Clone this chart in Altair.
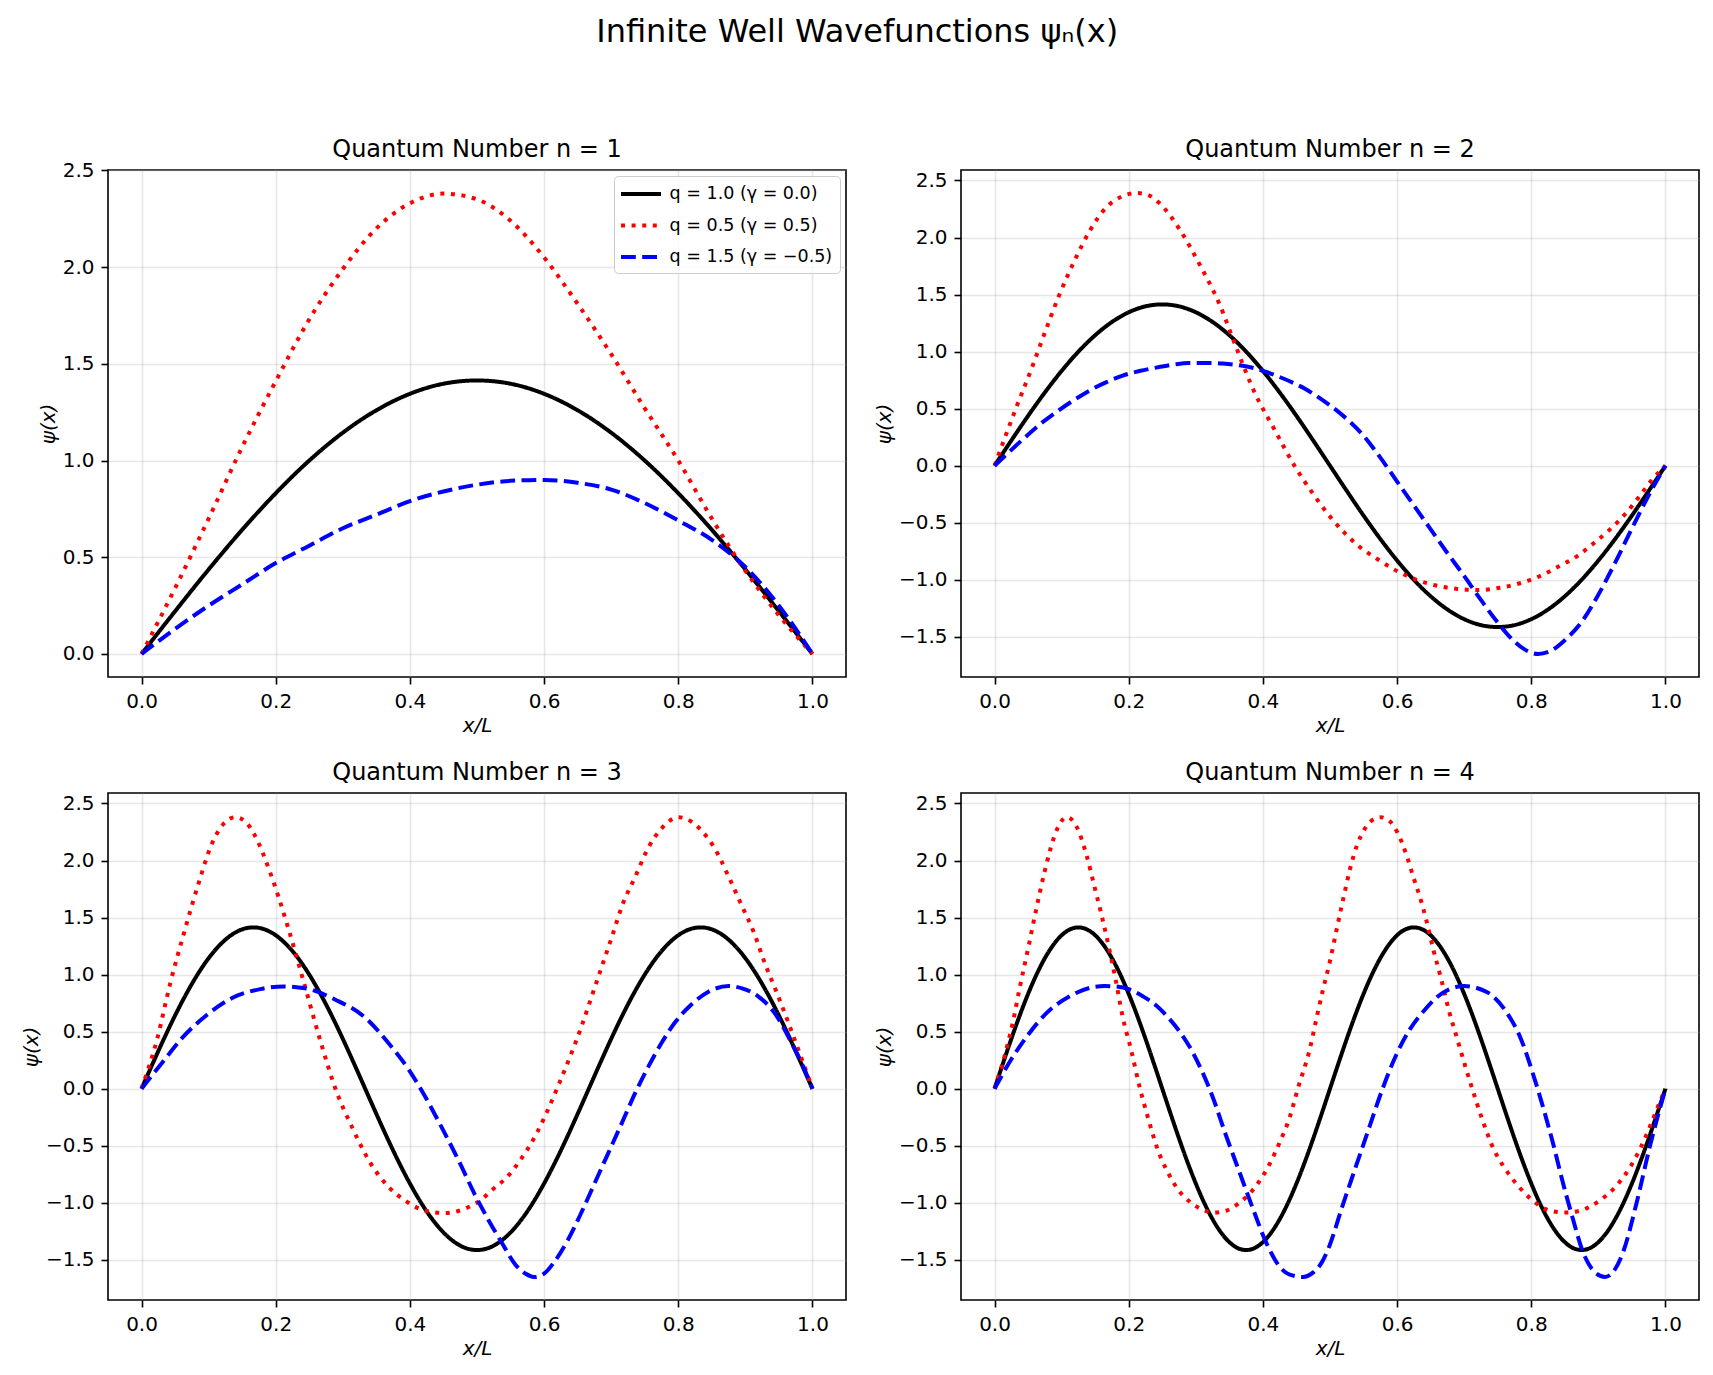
import altair as alt
import numpy as np
import pandas as pd

FONT = "DejaVu Sans"

SERIES = ["q = 1.0 (γ = 0.0)", "q = 0.5 (γ = 0.5)", "q = 1.5 (γ = −0.5)"]
COLORS = ["#000000", "#ff0000", "#0000ff"]
DASHES = [[1, 0], [4, 6.6], [14.8, 6.4]]

# q = 1.0 (standard well): values on an evenly spaced x grid from 0 to 1
black_n1 = [0, .221, .437, .642, .831, 1.0, 1.144, 1.26, 1.345, 1.397, 1.414,
            1.397, 1.345, 1.26, 1.144, 1.0, .831, .642, .437, .221, 0]
black_n2 = [0, .221, .437, .642, .831, 1.0, 1.144, 1.26, 1.345, 1.397, 1.414,
            1.397, 1.345, 1.26, 1.144, 1.0, .831, .642, .437, .221,
            0, -.221, -.437, -.642, -.831, -1.0, -1.144, -1.26, -1.345, -1.397, -1.414,
            -1.397, -1.345, -1.26, -1.144, -1.0, -.831, -.642, -.437, -.221, 0]
black_n3 = [0, .221, .437, .642, .831, 1.0, 1.144, 1.26, 1.345, 1.397, 1.414,
            1.397, 1.345, 1.26, 1.144, 1.0, .831, .642, .437, .221,
            0, -.221, -.437, -.642, -.831, -1.0, -1.144, -1.26, -1.345, -1.397, -1.414,
            -1.397, -1.345, -1.26, -1.144, -1.0, -.831, -.642, -.437, -.221,
            0, .221, .437, .642, .831, 1.0, 1.144, 1.26, 1.345, 1.397, 1.414,
            1.397, 1.345, 1.26, 1.144, 1.0, .831, .642, .437, .221, 0]
black_n4 = [0, .221, .437, .642, .831, 1.0, 1.144, 1.26, 1.345, 1.397, 1.414,
            1.397, 1.345, 1.26, 1.144, 1.0, .831, .642, .437, .221,
            0, -.221, -.437, -.642, -.831, -1.0, -1.144, -1.26, -1.345, -1.397, -1.414,
            -1.397, -1.345, -1.26, -1.144, -1.0, -.831, -.642, -.437, -.221,
            0, .221, .437, .642, .831, 1.0, 1.144, 1.26, 1.345, 1.397, 1.414,
            1.397, 1.345, 1.26, 1.144, 1.0, .831, .642, .437, .221,
            0, -.221, -.437, -.642, -.831, -1.0, -1.144, -1.26, -1.345, -1.397, -1.414,
            -1.397, -1.345, -1.26, -1.144, -1.0, -.831, -.642, -.437, -.221, 0]

# q = 0.5
red_x1 = [0, .05, .1, .15, .2, .25, .3, .35, .4, .45, .5, .55, .6, .65, .7, .75, .8, .85, .9, .95, 1]
red_y1 = [0, .34, .70, 1.07, 1.41, 1.73, 1.99, 2.20, 2.33, 2.38, 2.35, 2.24, 2.05, 1.81, 1.55,
          1.27, 1.00, .70, .43, .20, 0]
red_x2 = [0, .033, .057, .072, .096, .121, .142, .166, .19, .212, .23, .246, .276, .306, .335,
          .36, .387, .417, .447, .474, .502, .522, .546, .571, .599, .629, .658, .69, .72, .753,
          .783, .812, .842, .869, .894, .917, .939, .961, .979, 1]
red_y2 = [0, .52, .88, 1.12, 1.49, 1.82, 2.06, 2.26, 2.36, 2.39, 2.37, 2.30, 2.07, 1.76, 1.42,
          1.04, .65, .32, 0, -.24, -.46, -.59, -.72, -.82, -.92, -1.0, -1.05, -1.08, -1.09, -1.07,
          -1.03, -.97, -.88, -.79, -.675, -.56, -.43, -.27, -.13, 0]
red_x3 = [0, .023, .043, .063, .085, .105, .122, .14, .155, .167, .192, .217, .242, .2665, .289,
          .314, .341, .368, .393, .423, .453, .4825, .507, .522, .547, .564, .589, .609, .622, .64,
          .656, .671, .686, .701, .716, .736, .756, .775, .80, .82, .835, .855, .875, .895, .912,
          .929, .947, .964, .981, 1]
red_y3 = [0, .43, .93, 1.36, 1.80, 2.15, 2.32, 2.38, 2.34, 2.24, 1.89, 1.44, .93, .42, 0,
          -.34, -.65, -.86, -.98, -1.07, -1.09, -1.05, -.97, -.89, -.76, -.63, -.39, -.14, .04, .30,
          .55, .81, 1.07, 1.33, 1.60, 1.86, 2.12, 2.28, 2.38, 2.34, 2.26, 2.10, 1.86, 1.60, 1.38,
          1.10, .84, .58, .31, 0]
red_x4 = [0, .0174, .0283, .037, .0497, .062, .0745, .089, .098, .107, .115, .122, .137, .149,
          .16, .17, .181, .191, .204, .216, .2285, .243, .258, .273, .293, .31, .327, .345, .365,
          .39, .41, .425, .44, .452, .47, .48, .49, .50, .51, .52, .53, .54, .55, .56, .575, .59,
          .601, .615, .624, .634, .643, .654, .666, .677, .69, .703, .712, .727, .744, .758, .778,
          .80, .828, .85, .872, .902, .927, .947, .962, .977, .992, 1]
red_y4 = [0, .34, .61, .87, 1.22, 1.57, 1.90, 2.21, 2.33, 2.38, 2.36, 2.30, 2.05, 1.77,
          1.51, 1.25, .94, .63, .33, .02, -.25, -.53, -.73, -.88, -1.0, -1.06, -1.085, -1.07, -1.0,
          -.85, -.66, -.47, -.25, 0, .35, .62, .88, 1.12, 1.40, 1.67, 1.93, 2.13, 2.26, 2.34, 2.38,
          2.34, 2.24, 2.03, 1.86, 1.68, 1.49, 1.22, .955, .69, .43, .17, 0, -.27, -.53, -.675,
          -.835, -.97, -1.07, -1.085, -1.07, -.98, -.85, -.69, -.53, -.33, -.11, 0]

# q = 1.5
blue_x1 = [0, .05, .1, .15, .2, .25, .3, .35, .4, .45, .5, .55, .6, .65, .7, .75, .8, .85, .9, .95, 1]
blue_y1 = [0, .13, .25, .36, .47, .56, .65, .72, .79, .84, .875, .895, .90, .885, .85, .78, .69,
           .59, .45, .25, 0]
blue_x2 = [0, .042, .067, .092, .117, .142, .166, .191, .216, .241, .266, .29, .315, .34, .365,
           .39, .415, .44, .464, .489, .514, .549, .574, .599, .624, .648, .673, .698, .723, .748,
           .773, .79, .81, .83, .85, .875, .9, .925, .95, .975, 1]
blue_y2 = [0, .23, .36, .47, .57, .66, .73, .79, .83, .86, .885, .90, .90, .895, .88, .85, .80,
           .74, .67, .575, .465, .27, .08, -.13, -.34, -.54, -.75, -.95, -1.16, -1.36, -1.53, -1.61,
           -1.65, -1.62, -1.53, -1.37, -1.13, -.85, -.55, -.26, 0]
blue_x3 = [0, .031, .0606, .095, .135, .177, .212, .244, .289, .334, .368, .398, .413, .443,
           .4726, .497, .517, .537, .557, .572, .585, .60, .615, .636, .656, .676, .696, .716, .736,
           .756, .775, .795, .82, .845, .875, .895, .919, .944, .969, .985, 1]
blue_y3 = [0, .23, .445, .635, .795, .873, .897, .88, .78, .62, .40, .17, .03, -.29, -.63, -.93,
           -1.15, -1.35, -1.54, -1.62, -1.65, -1.62, -1.52, -1.32, -1.08, -.82, -.56, -.30, -.035,
           .20, .40, .58, .74, .85, .90, .88, .81, .66, .40, .21, 0]
blue_x4 = [0, .0248, .0497, .077, .112, .1465, .164, .182, .201, .221, .241, .258, .276, .2905,
           .3055, .325, .345, .365, .385, .405, .425, .44, .46, .475, .488, .499, .519, .539, .559,
           .579, .599, .619, .641, .668, .70, .733, .762, .785, .802, .817, .832, .847, .862, .877,
           .895, .91, .925, .937, .957, .977, 1]
blue_y4 = [0, .256, .47, .66, .81, .89, .90, .895, .87, .81, .73, .63, .50, .37, .20, -.07, -.41,
           -.73, -1.05, -1.35, -1.56, -1.63, -1.65, -1.61, -1.52, -1.38, -1.02, -.675, -.33, .01,
           .30, .52, .69, .84, .90, .85, .68, .43, .14, -.15, -.47, -.82, -1.14, -1.43, -1.61,
           -1.65, -1.58, -1.43, -1.0, -.50, 0]

X_TICKS = [0.0, 0.2, 0.4, 0.6, 0.8, 1.0]

# legend swatch: a 40 px horizontal stroke that starts at the left edge of the entry
SWATCH = "M-1.222,0H3.222"


def panel_frame(black, rx, ry, bx, by):
    xs = np.linspace(0, 1, len(black))
    parts = [
        pd.DataFrame({"x": xs, "psi": black, "series": SERIES[0]}),
        pd.DataFrame({"x": rx, "psi": ry, "series": SERIES[1]}),
        pd.DataFrame({"x": bx, "psi": by, "series": SERIES[2]}),
    ]
    return pd.concat(parts, ignore_index=True)


def panel(n, df, ydomain, yticks, show_legend, title_offset):
    if show_legend:
        legend = alt.Legend(
            title=None, orient="top-right", offset=6, symbolType=SWATCH,
            symbolSize=324, symbolStrokeWidth=4, labelFont=FONT, labelFontSize=17.5,
            labelColor="black", labelOffset=26.6, labelLimit=400, padding=7, rowPadding=11.5,
            fillColor="rgba(255,255,255,0.8)", strokeColor="#cccccc", cornerRadius=4,
        )
    else:
        legend = None
    base = alt.Chart(df).mark_line(
        strokeWidth=4, interpolate="monotone", strokeCap="butt", strokeJoin="round"
    ).encode(
        x=alt.X("x:Q",
                scale=alt.Scale(domain=[-0.05, 1.05], nice=False, zero=False),
                axis=alt.Axis(values=X_TICKS, format=".1f", title="x/L")),
        y=alt.Y("psi:Q",
                scale=alt.Scale(domain=ydomain, nice=False, zero=False),
                axis=alt.Axis(values=yticks, format=".1f", title="ψ(x)")),
        color=alt.Color("series:N", scale=alt.Scale(domain=SERIES, range=COLORS), legend=legend),
        strokeDash=alt.StrokeDash("series:N", scale=alt.Scale(domain=SERIES, range=DASHES),
                                  legend=legend),
    )
    layers = [base.transform_filter(alt.datum.series == s) for s in SERIES]
    return alt.layer(*layers).properties(
        width=738, height=507,
        title=alt.TitleParams(f"Quantum Number n = {n}", font=FONT, fontSize=24,
                              fontWeight="normal", color="black", anchor="middle",
                              frame="group", baseline="alphabetic", offset=title_offset),
    )


Y1 = [0.0, 0.5, 1.0, 1.5, 2.0, 2.5]
Y2 = [-1.5, -1.0, -0.5, 0.0, 0.5, 1.0, 1.5, 2.0, 2.5]

p1 = panel(1, panel_frame(black_n1, red_x1, red_y1, blue_x1, blue_y1), [-0.119, 2.502], Y1,
           True, -20.6)
p2 = panel(2, panel_frame(black_n2, red_x2, red_y2, blue_x2, blue_y2), [-1.852, 2.592], Y2,
           False, -10.6)
p3 = panel(3, panel_frame(black_n3, red_x3, red_y3, blue_x3, blue_y3), [-1.852, 2.592], Y2,
           False, -10.6)
p4 = panel(4, panel_frame(black_n4, red_x4, red_y4, blue_x4, blue_y4), [-1.852, 2.592], Y2,
           False, -10.6)

chart = alt.concat(
    p1, p2, p3, p4, columns=2, spacing=alt.RowColnumber(row=116, column=115), bounds="flush"
).resolve_scale(
    color="independent", strokeDash="independent"
).properties(
    title=alt.TitleParams("Infinite Well Wavefunctions ψₙ(x)", font=FONT, fontSize=32,
                          fontWeight="normal", color="black", anchor="middle",
                          frame="bounds", baseline="alphabetic", offset=62.8, dx=-3),
    padding={"left": 20, "top": 16, "right": 5, "bottom": 2},
    background="white",
).configure_axis(
    labelFont=FONT, labelFontSize=20, labelColor="black", labelPadding=7,
    titleFont=FONT, titleFontSize=20, titleFontWeight="normal", titleColor="black",
    titleFontStyle="italic", titlePadding=4,
    tickColor="black", tickSize=7, tickWidth=1.6, domain=False,
    grid=True, gridColor="#b0b0b0", gridOpacity=0.3, gridWidth=1.6,
).configure_view(
    stroke="black", strokeWidth=1.6
)

chart.save("out.html", embed_options={"renderer": "svg", "actions": False})
